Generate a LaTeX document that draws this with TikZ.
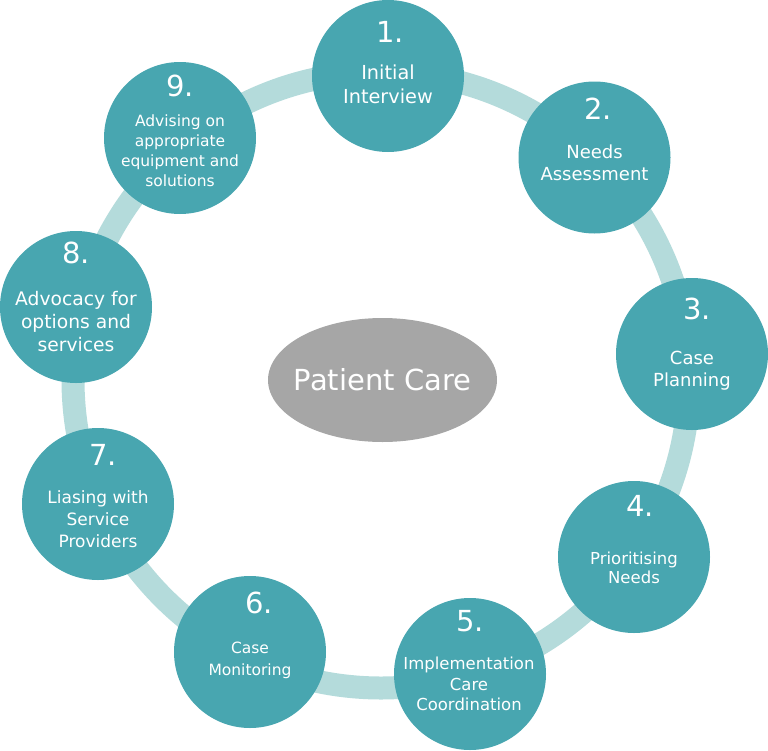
\documentclass[tikz,border=0pt]{standalone}
\usepackage{fontspec}
\setmainfont{DejaVu Sans}
\usetikzlibrary{shapes.geometric}
\definecolor{tealc}{HTML}{48A6B0}
\definecolor{ringc}{HTML}{B4DBDB}
\definecolor{grayc}{HTML}{A6A6A6}
\begin{document}
\begin{tikzpicture}[x=1pt,y=-1pt,
  stepcircle/.style={circle, fill=tealc, minimum size=152pt, inner sep=0pt},
  num/.style={text=white, anchor=base, inner sep=0pt, font=\fontsize{29}{29}\selectfont},
  lbl/.style={text=white, anchor=base, inner sep=0pt, font=\fontsize{#1}{#1}\selectfont}]
\useasboundingbox (0,0) rectangle (768,750);
\node[circle, draw=ringc, line width=23pt, minimum size=616pt, inner sep=0pt] (ring) at (381,380) {};
% circles
\node[stepcircle] (c1) at (388,76) {};
\node[stepcircle] (c2) at (594.5,157.5) {};
\node[stepcircle] (c3) at (692,354) {};
\node[stepcircle] (c4) at (634,557) {};
\node[stepcircle] (c5) at (470,674) {};
\node[stepcircle] (c6) at (250,652) {};
\node[stepcircle] (c7) at (98,504) {};
\node[stepcircle] (c8) at (76,307) {};
\node[stepcircle] (c9) at (180,138) {};
% 1
\node[num] (n1) at (390,42.3) {1.};
\node[lbl=19.3] (t1a) at (388,79.3) {Initial};
\node[lbl=19.3] (t1b) at (388,103.3) {Interview};
% 2
\node[num] (n2) at (598,119.3) {2.};
\node[lbl=18] (t2a) at (594.5,158.3) {Needs};
\node[lbl=18] (t2b) at (594.5,180) {Assessment};
% 3
\node[num] (n3) at (697,319.3) {3.};
\node[lbl=18] (t3a) at (692,364) {Case};
\node[lbl=18] (t3b) at (692,386.7) {Planning};
% 4
\node[num] (n4) at (640,516.7) {4.};
\node[lbl=16.5] (t4a) at (634,564) {Prioritising};
\node[lbl=16.5] (t4b) at (634,583) {Needs};
% 5
\node[num] (n5) at (470,631.7) {5.};
\node[lbl=16.5] (t5a) at (469,669) {Implementation};
\node[lbl=16.5] (t5b) at (469,690) {Care};
\node[lbl=16.5] (t5c) at (469,710) {Coordination};
% 6
\node[num] (n6) at (259,613) {6.};
\node[lbl=15.5] (t6a) at (250,653) {Case};
\node[lbl=15.5] (t6b) at (250,675) {Monitoring};
% 7
\node[num] (n7) at (103,465) {7.};
\node[lbl=17] (t7a) at (98,503.3) {Liasing with};
\node[lbl=17] (t7b) at (98,525) {Service};
\node[lbl=17] (t7c) at (98,547.3) {Providers};
% 8
\node[num] (n8) at (76,263.3) {8.};
\node[lbl=18.7] (t8a) at (76,305) {Advocacy for};
\node[lbl=18.7] (t8b) at (76,328.3) {options and};
\node[lbl=18.7] (t8c) at (76,351.7) {services};
% 9
\node[num] (n9) at (180,96.7) {9.};
\node[lbl=15.5] (t9a) at (180,126.7) {Advising on};
\node[lbl=15.5] (t9b) at (180,146.7) {appropriate};
\node[lbl=15.5] (t9c) at (180,166.7) {equipment and};
\node[lbl=15.5] (t9d) at (180,186.7) {solutions};
% centre
\node[ellipse, fill=grayc, minimum width=229pt, minimum height=124pt, inner sep=0pt] (center) at (382.5,380) {};
\node[text=white, anchor=base, inner sep=0pt, font=\fontsize{29}{29}\selectfont] (pc) at (382.5,390) {Patient Care};
\end{tikzpicture}
\end{document}
